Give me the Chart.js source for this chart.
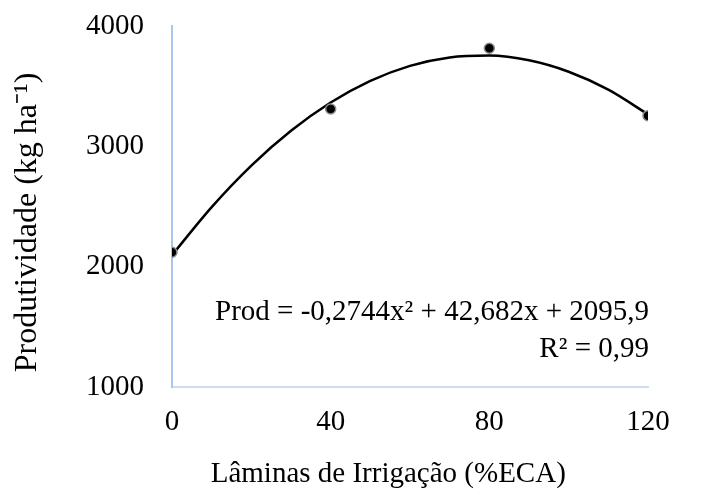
<!DOCTYPE html>
<html>
<head>
<meta charset="utf-8">
<script src="https://cdn.jsdelivr.net/npm/chart.js@4"></script>
<style>
  html, body { margin: 0; padding: 0; background: #fff; }
  #wrap { width: 714px; height: 496px; }
</style>
</head>
<body>
<div id="wrap"><canvas id="grafico" width="714" height="496"></canvas></div>
<script>
// valores observados
const laminas = [0, 40, 80, 120];
const produtividade = [2120, 3310, 3815, 3255];

// curva de tendência
const curvaX = [0, 10, 20, 30, 40, 50, 60, 70, 80, 90, 100, 110, 120];
const curvaY = [2096, 2495, 2840, 3129, 3364, 3544, 3669, 3739, 3754, 3715, 3620, 3471, 3266];

const ticksX = [0, 40, 80, 120];
const ticksY = [1000, 2000, 3000, 4000];

const equacao = ['Prod = -0,2744x² + 42,682x + 2095,9', 'R² = 0,99'];

const fonte = "'Liberation Serif', 'Times New Roman', serif";

const textoEquacao = {
  id: 'textoEquacao',
  afterDatasetsDraw(chart) {
    const { ctx, chartArea } = chart;
    ctx.save();
    ctx.fillStyle = '#000';
    ctx.font = '29px ' + fonte;
    ctx.textAlign = 'right';
    ctx.textBaseline = 'alphabetic';
    ctx.fillText(equacao[0], chartArea.right + 1, 320);
    ctx.fillText(equacao[1], chartArea.right + 1, 357);
    ctx.restore();
  }
};

const ctx = document.getElementById('grafico').getContext('2d');
const grafico = new Chart(ctx, {
  type: 'scatter',
  data: {
    datasets: [{
      label: 'Tendência',
      data: curvaX.map((x, i) => ({ x: x, y: curvaY[i] })),
      showLine: true,
      borderColor: '#000',
      borderWidth: 2.5,
      pointRadius: 0,
      cubicInterpolationMode: 'monotone',
      order: 2
    }, {
      label: 'Produtividade',
      data: laminas.map((x, i) => ({ x: x, y: produtividade[i] })),
      backgroundColor: '#000',
      borderColor: '#8c8c8c',
      borderWidth: 1.5,
      pointRadius: 5,
      order: 1
    }]
  },
  options: {
    responsive: false,
    animation: false,
    layout: { padding: { left: 0, right: 66, top: 26, bottom: 0 } },
    plugins: {
      legend: { display: false },
      tooltip: { enabled: false }
    },
    scales: {
      x: {
        type: 'linear',
        min: 0,
        max: 120,
        afterBuildTicks: s => { s.ticks = ticksX.map(v => ({ value: v })); },
        afterFit: s => { s.height = 109; s.paddingLeft = 0; s.paddingRight = 0; },
        grid: { display: false, drawTicks: false },
        border: { display: true, color: '#cfdcf0', width: 2 },
        ticks: { color: '#000', padding: 18, font: { family: fonte, size: 29 }, callback: v => String(v) },
        title: {
          display: true,
          text: 'Lâminas de Irrigação (%ECA)      ',
          color: '#000',
          font: { family: fonte, size: 29 },
          padding: { top: 0, bottom: 4 }
        }
      },
      y: {
        min: 1000,
        max: 4000,
        afterBuildTicks: s => { s.ticks = ticksY.map(v => ({ value: v })); },
        afterFit: s => { s.width = 172; s.paddingTop = 0; s.paddingBottom = 0; },
        grid: { display: false, drawTicks: false },
        border: { display: true, color: '#a8c6ee', width: 2 },
        ticks: { color: '#000', padding: 28, font: { family: fonte, size: 29 }, callback: v => String(v) },
        title: {
          display: true,
          text: 'Produtividade (kg ha⁻¹)    ',
          color: '#000',
          font: { family: fonte, size: 32 },
          padding: { top: 8, bottom: 0 }
        }
      }
    }
  },
  plugins: [textoEquacao]
});
</script>
</body>
</html>
